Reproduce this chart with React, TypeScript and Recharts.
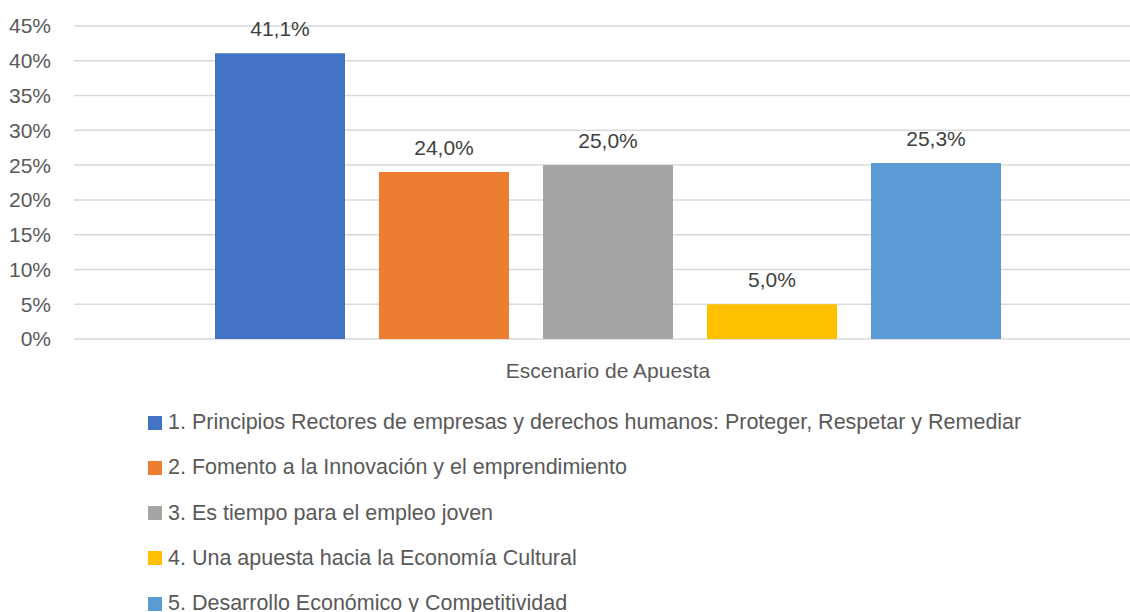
import React from "react";
import { BarChart, Bar, XAxis, YAxis, CartesianGrid, Legend, LabelList } from "recharts";

const categories = ["Escenario de Apuesta"];
const seriesKeys = ["s1", "s2", "s3", "s4", "s5"];
const seriesNames = [
  "1. Principios Rectores de empresas y derechos humanos: Proteger, Respetar y Remediar",
  "2. Fomento a la Innovación y el emprendimiento",
  "3. Es tiempo para el empleo joven",
  "4. Una apuesta hacia la Economía Cultural",
  "5. Desarrollo Económico y Competitividad",
];
const seriesValues = [41.1, 24.0, 25.0, 5.0, 25.3];
const seriesColors = ["#4472C4", "#ED7D31", "#A5A5A5", "#FFC000", "#5B9BD5"];
const yTicks = [0, 5, 10, 15, 20, 25, 30, 35, 40, 45];

const data = categories.map((name) => {
  const row: Record<string, string | number> = { name };
  seriesKeys.forEach((k, i) => {
    row[k] = seriesValues[i];
  });
  return row;
});

const FONT = '"Liberation Sans", Arial, sans-serif';
const TEXT = "#595959";

const fmtLabel = (v: any) => Number(v).toFixed(1).replace(".", ",") + "%";

const LegendContent = () => (
  <div style={{ fontFamily: FONT, fontSize: 21.5, color: TEXT, textAlign: "left" }}>
    {seriesNames.map((n, i) => (
      <div
        key={n}
        style={{ height: 45.25, display: "flex", alignItems: "center", whiteSpace: "nowrap" }}
      >
        <span
          style={{
            display: "inline-block",
            width: 14,
            height: 14,
            background: seriesColors[i],
            marginRight: 6,
          }}
        />
        <span>{n}</span>
      </div>
    ))}
  </div>
);

export default function App() {
  return (
    <div
      style={{
        position: "fixed",
        left: 0,
        top: 0,
        width: 1130,
        height: 612,
        overflow: "hidden",
        background: "#fff",
      }}
    >
      <BarChart
        width={1142}
        height={612}
        data={data}
        margin={{ top: 26, right: 0, left: 0, bottom: 233 }}
        barGap={34}
      >
        <CartesianGrid vertical={false} stroke="#d9d9d9" strokeWidth={1.5} />
        <XAxis
          dataKey="name"
          axisLine={false}
          tickLine={false}
          tickSize={0}
          tickMargin={24}
          tick={{ fill: TEXT, fontSize: 21, fontFamily: FONT }}
          height={40}
        />
        <YAxis
          width={74}
          domain={[0, 45]}
          ticks={yTicks}
          interval={0}
          axisLine={false}
          tickLine={false}
          tickSize={0}
          tickMargin={23}
          tickFormatter={(v: number) => `${v}%`}
          tick={{ fill: TEXT, fontSize: 21, fontFamily: FONT }}
        />
        <Legend
          layout="horizontal"
          verticalAlign="middle"
          align="center"
          wrapperStyle={{ top: 400, left: 148, width: 980, height: 230 }}
          content={() => <LegendContent />}
        />
        {seriesKeys.map((k, i) => (
          <Bar
            key={k}
            dataKey={k}
            name={seriesNames[i]}
            fill={seriesColors[i]}
            barSize={130}
            isAnimationActive={false}
          >
            <LabelList
              dataKey={k}
              position="top"
              offset={17}
              formatter={fmtLabel}
              style={{ fill: "#404040", fontSize: 21, fontFamily: FONT }}
            />
          </Bar>
        ))}
      </BarChart>
    </div>
  );
}
